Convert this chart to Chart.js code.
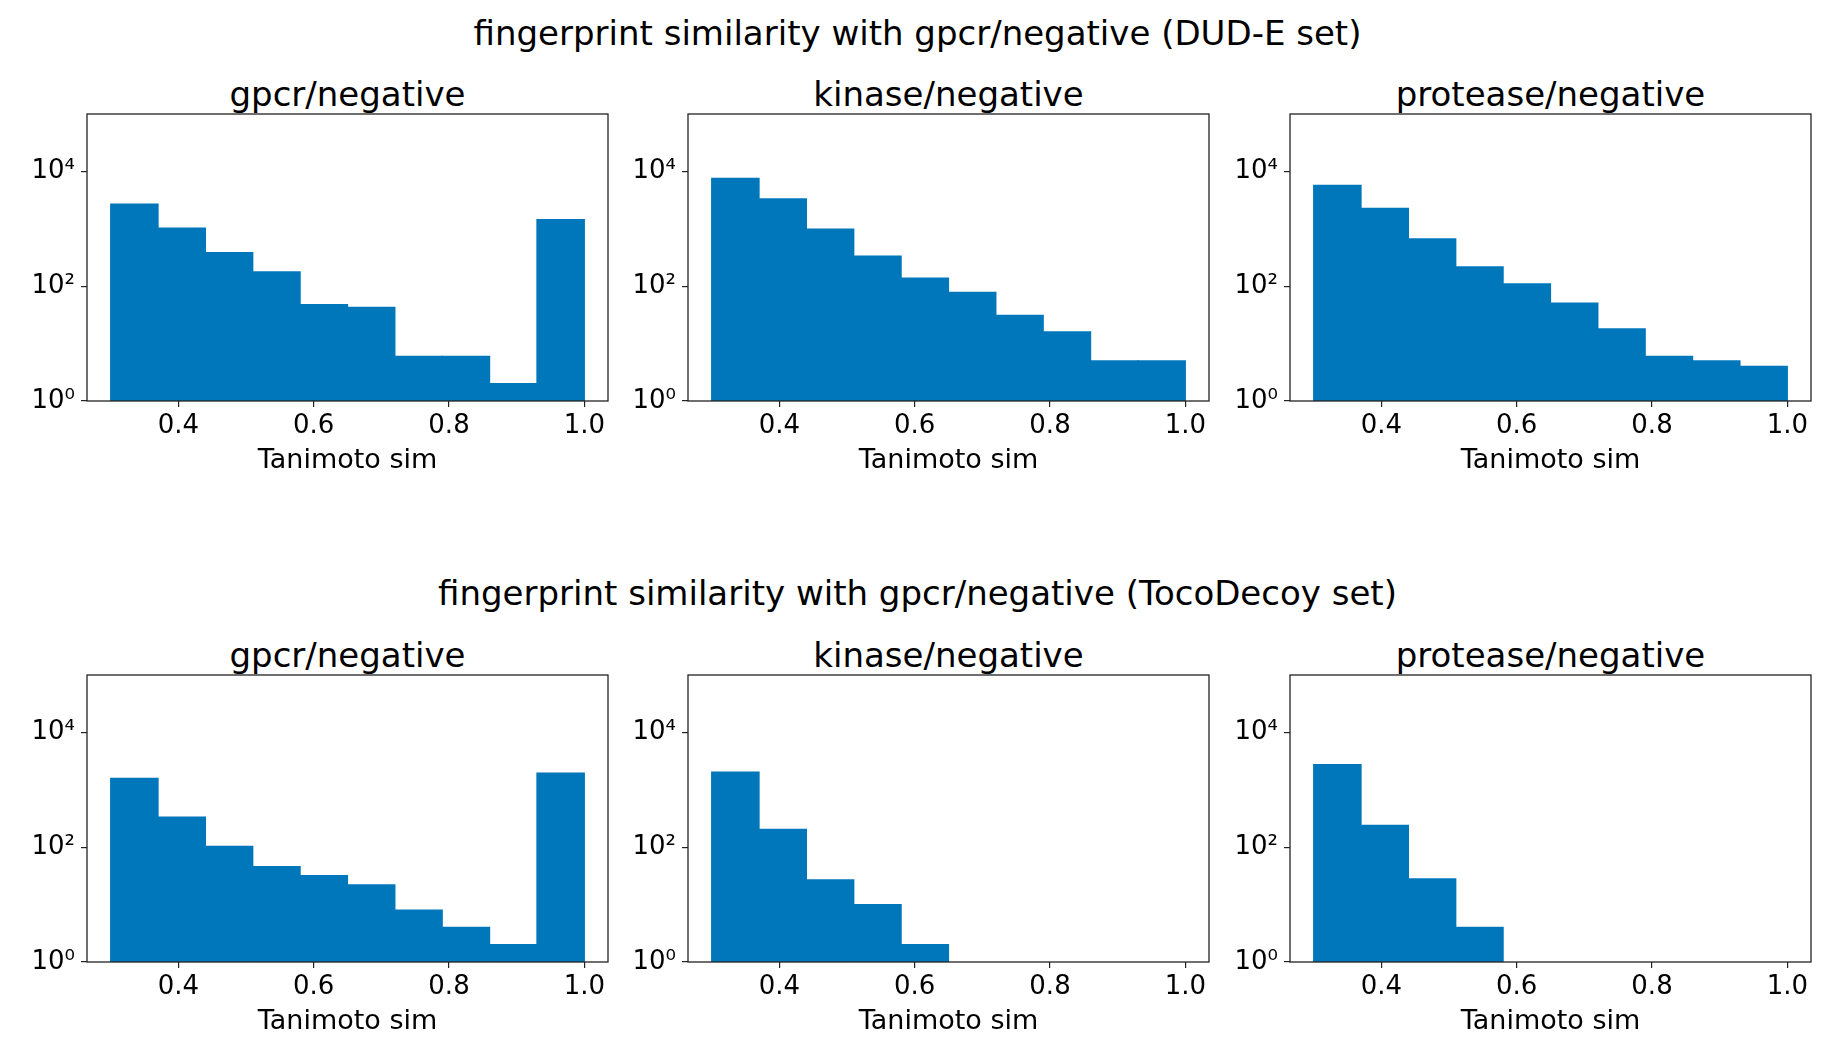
<!DOCTYPE html>
<html lang="en">
<head>
<meta charset="UTF-8">
<title>fingerprint similarity with gpcr/negative</title>
<script src="https://cdn.jsdelivr.net/npm/chart.js"></script>
<style>
    html, body { margin: 0; padding: 0; background: #fff; overflow: hidden; }
    body { width: 1835px; height: 1049px; position: relative; font-family: 'DejaVu Sans', sans-serif; }
    .txt { position: absolute; transform: translate(-50%, -50%); font-size: 34px; line-height: 1; white-space: nowrap; color: #000; }
    canvas { position: absolute; }
</style>
</head>
<body>
<script>
    // bin centres of the histograms (10 bins from 0.3 to 1.0)
    var binCenters = [0.335, 0.405, 0.475, 0.545, 0.615, 0.685, 0.755, 0.825, 0.895, 0.965];

    // counts per bin, DUD-E set
    var dudeGpcr     = [2700, 1030, 385, 178, 48, 43, 6, 6, 2, 1440];
    var dudeKinase   = [7600, 3330, 985, 335, 139, 78, 31, 16, 5, 5];
    var dudeProtease = [5700, 2280, 665, 218, 110, 51, 18, 6, 5, 4];

    // counts per bin, TocoDecoy set
    var tocoGpcr     = [1590, 335, 103, 46, 32, 22, 8, 4, 2, 1950];
    var tocoKinase   = [2030, 205, 27, 10, 2, 0, 0, 0, 0, 0];
    var tocoProtease = [2740, 240, 28, 4, 0, 0, 0, 0, 0, 0];

    var rowTitles = ['fingerprint similarity with gpcr/negative (DUD-E set)',
                     'fingerprint similarity with gpcr/negative (TocoDecoy set)'];
    var subplotTitles = ['gpcr/negative', 'kinase/negative', 'protease/negative'];
    var xLabel = 'Tanimoto sim';

    var xTickValues = [0.4, 0.6, 0.8, 1.0];
    var yTickValues = [1, 100, 10000];
    var yTickLabels = ['10\u2070', '10\u00b2', '10\u2074'];

    Chart.defaults.font.family = "'DejaVu Sans', sans-serif";
    Chart.defaults.color = '#000';

    var barColor = '#0077bb';
    var axesLefts = [87, 688, 1290];
    var axesTops = [114, 675];
    var rowTitleY = [33, 593];
    var axesW = 521, axesH = 287;
    var yAxisW = 87, xAxisH = 78, padTop = 8, padRight = 12;

    function texto(str, cx, cy) {
        var d = document.createElement('div');
        d.className = 'txt';
        d.textContent = str;
        d.style.left = cx + 'px';
        d.style.top = cy + 'px';
        document.body.appendChild(d);
    }

    // cadre complet autour de la zone du graphique
    var framePlugin = {
        id: 'frame',
        afterDraw: function(chart) {
            var a = chart.chartArea, ctx = chart.ctx;
            ctx.save();
            ctx.strokeStyle = '#222';
            ctx.lineWidth = 1.3;
            ctx.strokeRect(a.left, a.top, a.right - a.left, a.bottom - a.top);
            ctx.restore();
        }
    };

    function desenharHist(row, col, counts) {
        texto(subplotTitles[col], axesLefts[col] + axesW / 2, axesTops[row] - 20.5);

        var canvas = document.createElement('canvas');
        var w = yAxisW + axesW + padRight;
        var h = padTop + axesH + xAxisH;
        canvas.width = w;
        canvas.height = h;
        canvas.style.left = (axesLefts[col] - yAxisW) + 'px';
        canvas.style.top = (axesTops[row] - padTop) + 'px';
        canvas.style.width = w + 'px';
        canvas.style.height = h + 'px';
        document.body.appendChild(canvas);

        var pontos = binCenters.map(function(c, i) {
            return { x: c, y: counts[i] > 0 ? counts[i] : null };
        });

        new Chart(canvas, {
            type: 'bar',
            data: {
                datasets: [{
                    data: pontos,
                    backgroundColor: barColor,
                    borderWidth: 0,
                    inflateAmount: 0.6,
                    barPercentage: 1,
                    categoryPercentage: 1
                }]
            },
            options: {
                responsive: false,
                animation: false,
                devicePixelRatio: 1,
                layout: { padding: { left: 0, right: padRight, top: padTop, bottom: 0 } },
                scales: {
                    x: {
                        type: 'linear',
                        min: 0.265,
                        max: 1.035,
                        offset: false,
                        afterFit: function(scale) { scale.height = xAxisH; },
                        afterBuildTicks: function(scale) {
                            scale.ticks = xTickValues.map(function(v) { return { value: v }; });
                        },
                        ticks: {
                            autoSkip: false,
                            maxRotation: 0,
                            padding: 4,
                            font: { size: 26 },
                            callback: function(v) { return Number(v).toFixed(1); }
                        },
                        grid: { offset: false, drawOnChartArea: false, drawTicks: true, tickLength: 6, color: '#222', lineWidth: 1.2 },
                        border: { display: false },
                        title: { display: true, text: xLabel, font: { size: 27 }, padding: { top: 0, bottom: 2 } }
                    },
                    y: {
                        type: 'logarithmic',
                        min: 1,
                        max: 100000,
                        afterFit: function(scale) {
                            scale.width = yAxisW;
                            scale.paddingTop = 0;  // pas de label en haut de l'axe
                        },
                        afterBuildTicks: function(scale) {
                            scale.ticks = yTickValues.map(function(v) { return { value: v, major: true }; });
                        },
                        ticks: {
                            autoSkip: false,
                            padding: 6,
                            font: { size: 26 },
                            callback: function(v) {
                                var i = yTickValues.indexOf(v);
                                return i >= 0 ? yTickLabels[i] : '';
                            }
                        },
                        grid: { drawOnChartArea: false, drawTicks: true, tickLength: 6, color: '#222', lineWidth: 1.2 },
                        border: { display: false }
                    }
                },
                plugins: {
                    legend: { display: false },
                    tooltip: { enabled: false },
                    title: { display: false }
                }
            },
            plugins: [framePlugin]
        });
    }

    texto(rowTitles[0], 917.5, rowTitleY[0]);
    texto(rowTitles[1], 917.5, rowTitleY[1]);

    desenharHist(0, 0, dudeGpcr);
    desenharHist(0, 1, dudeKinase);
    desenharHist(0, 2, dudeProtease);
    desenharHist(1, 0, tocoGpcr);
    desenharHist(1, 1, tocoKinase);
    desenharHist(1, 2, tocoProtease);
</script>
</body>
</html>
